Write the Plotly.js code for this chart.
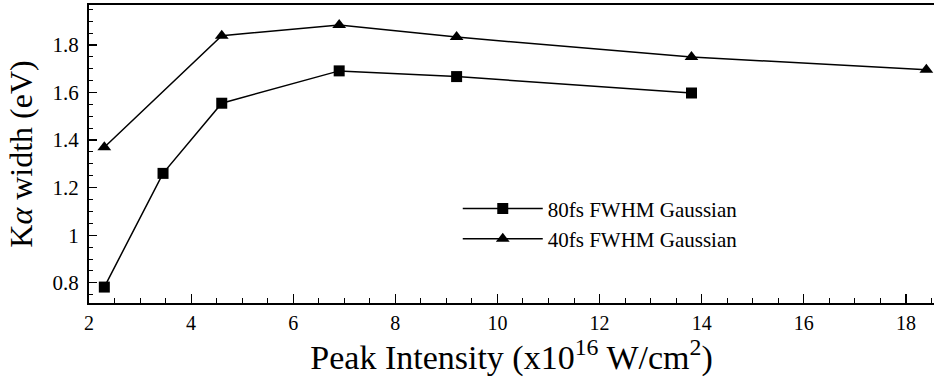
<!DOCTYPE html>
<html>
<head>
<meta charset="utf-8">
<script src="https://cdn.plot.ly/plotly-3.0.1.min.js"></script>
<style>html,body{margin:0;padding:0;background:#fff;}#chart{width:934px;height:392px;}</style>
</head>
<body>
<div id="chart"></div>
<script>
const intensity80 = [2.3, 3.45, 4.6, 6.9, 9.2, 13.8];
const width80 = [0.782, 1.26, 1.555, 1.691, 1.667, 1.598];
const intensity40 = [2.3, 4.6, 6.9, 9.2, 13.8, 18.4];
const width40 = [1.37, 1.839, 1.884, 1.833, 1.749, 1.696];
const seriesNames = ["80fs FWHM Gaussian", "40fs FWHM Gaussian"];
const xTickVals = [2, 4, 6, 8, 10, 12, 14, 16, 18];
const yTickVals = [0.8, 1, 1.2, 1.4, 1.6, 1.8];
const yTickText = ["0.8", "1", "1.2", "1.4", "1.6", "1.8"];

const serif = "'Liberation Serif', 'Times New Roman', serif";

const traces = [
  {
    x: intensity80, y: width80, name: seriesNames[0],
    type: "scatter", mode: "lines+markers",
    line: {color: "#000", width: 1.5},
    marker: {symbol: "square", size: 11, color: "#000"}
  },
  {
    x: intensity40, y: width40, name: seriesNames[1],
    type: "scatter", mode: "lines+markers",
    line: {color: "#000", width: 1.5},
    marker: {symbol: "triangle-up", size: 12, color: "#000"}
  }
];

const layout = {
  width: 934, height: 392,
  margin: {l: 89, r: 0, t: 5, b: 89},
  paper_bgcolor: "#fff", plot_bgcolor: "#fff",
  showlegend: true,
  legend: {
    x: 0.4364, y: 0.385, xanchor: "left", yanchor: "top",
    itemwidth: 80,
    font: {family: serif, size: 21, color: "#000"},
    bgcolor: "rgba(0,0,0,0)", tracegroupgap: 0
  },
  xaxis: {
    range: [2, 18.55],
    tickvals: xTickVals,
    ticks: "inside", ticklen: 9, tickwidth: 1.2, tickcolor: "#000",
    minor: {dtick: 0.5, ticks: "inside", ticklen: 5, tickwidth: 1, tickcolor: "#000"},
    showline: true, linecolor: "#000", linewidth: 2, mirror: true,
    showgrid: false, zeroline: false,
    ticklabelstandoff: 1,
    tickfont: {family: serif, size: 20, color: "#000"},
    title: {text: "Peak Intensity (x10<sup>16</sup> W/cm<sup>2</sup>)", font: {family: serif, size: 34, color: "#000"}, standoff: 8}
  },
  yaxis: {
    range: [0.715, 1.968],
    tickvals: yTickVals, ticktext: yTickText,
    ticks: "inside", ticklen: 8, tickwidth: 1.2, tickcolor: "#000",
    minor: {dtick: 0.05, ticks: "inside", ticklen: 4, tickwidth: 1, tickcolor: "#000"},
    showline: true, linecolor: "#000", linewidth: 2, mirror: false,
    showgrid: false, zeroline: false,
    ticklabelstandoff: 4,
    tickfont: {family: serif, size: 21, color: "#000"},
    title: {text: "K<i>α</i> width (eV)", font: {family: serif, size: 32, color: "#000"}, standoff: 10}
  }
};

Plotly.newPlot("chart", traces, layout, {displayModeBar: false, staticPlot: true});
</script>
</body>
</html>
